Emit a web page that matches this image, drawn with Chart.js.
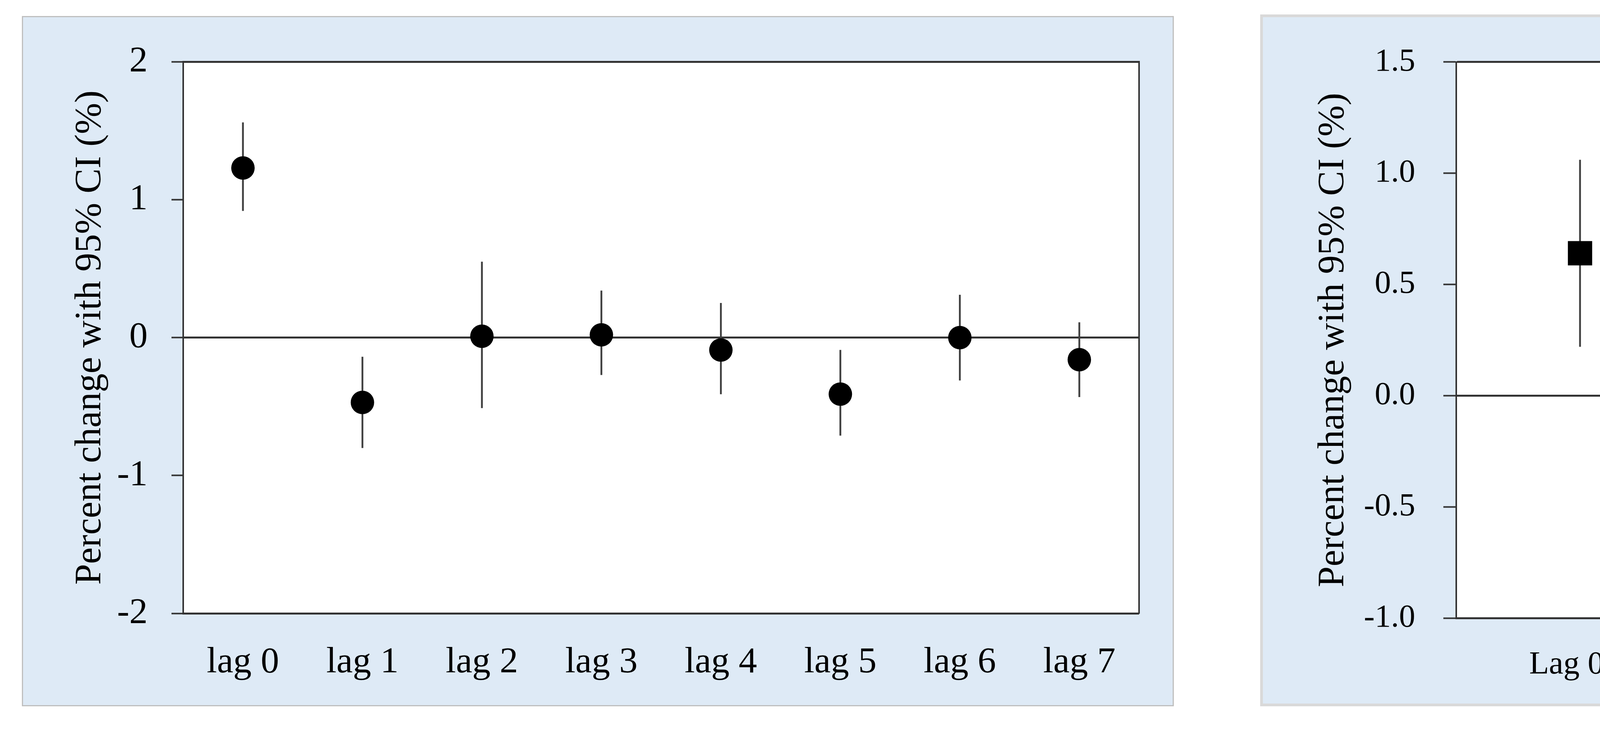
<!DOCTYPE html>
<html>
<head>
<meta charset="utf-8">
<script src="https://cdn.jsdelivr.net/npm/chart.js@4.4.1/dist/chart.umd.min.js"></script>
<style>
  html, body { margin: 0; padding: 0; background: #fff; }
  body { width: 6424px; height: 1880px; position: relative; overflow: hidden; }
  .panel { position: absolute; box-sizing: border-box; background: #DEEAF6; }
  #panelLeft { left: 56px; top: 41px; width: 2949px; height: 1768px; border: 3px solid #BFBFBF; }
  #panelRight { left: 3226px; top: 37px; width: 3138px; height: 1772px; border: 7px solid #D9D9D9; }
  canvas { position: absolute; }
  #chartLeft { left: 56px; top: 41px; }
  #chartRight { left: 3226px; top: 37px; }
</style>
</head>
<body>
<div class="panel" id="panelLeft"></div>
<div class="panel" id="panelRight"></div>
<canvas id="chartLeft" width="2949" height="1768"></canvas>
<canvas id="chartRight" width="3138" height="1772"></canvas>
<script>
// single-day lags
const lagLabels = ['lag 0', 'lag 1', 'lag 2', 'lag 3', 'lag 4', 'lag 5', 'lag 6', 'lag 7'];
const lagEstimate = [1.23, -0.47, 0.01, 0.02, -0.09, -0.41, 0.00, -0.16];
const lagLower = [0.92, -0.80, -0.51, -0.27, -0.41, -0.71, -0.31, -0.43];
const lagUpper = [1.56, -0.14, 0.55, 0.34, 0.25, -0.09, 0.31, 0.11];
const lagTicks = [-2, -1, 0, 1, 2];

// cumulative lags
const cumLabels = ['Lag 0-1', 'Lag 0-3', 'Lag 0-5', 'Lag 0-7'];
const cumEstimate = [0.64, 0.44, 0.20, 0.10];
const cumLower = [0.22, -0.30, -0.65, -0.76];
const cumUpper = [1.06, 1.20, 1.08, 0.97];
const cumTicks = [-1.0, -0.5, 0.0, 0.5, 1.0, 1.5];

const AXIS = '#333333';
const BAR = '#404040';
const FONT = 'Liberation Serif';
const TITLE = 'Percent change with 95% CI (%)';

// white plot area on the blue panel
const plotFill = {
    id: 'plotFill',
    beforeDraw(chart) {
        const { ctx, chartArea: a } = chart;
        ctx.save();
        ctx.fillStyle = '#fff';
        ctx.fillRect(a.left, a.top, a.right - a.left, a.bottom - a.top);
        ctx.restore();
    }
};

function makeChart(id, cfg) {
    const ticks = cfg.ticks;
    const first = ticks[0];
    const last = ticks[ticks.length - 1];
    const strong = v => v === 0 || v === first || v === last;

    return new Chart(document.getElementById(id), {
        data: {
            labels: cfg.labels,
            datasets: [{
                type: 'line',
                data: cfg.estimate,
                showLine: false,
                pointStyle: cfg.pointStyle,
                pointRadius: cfg.pointRadius,
                pointBackgroundColor: '#000',
                pointBorderWidth: 0,
                order: 0
            }, {
                type: 'bar',
                data: cfg.lower.map((lo, i) => [lo, cfg.upper[i]]),
                backgroundColor: BAR,
                barThickness: 4,
                order: 1
            }]
        },
        plugins: [plotFill],
        options: {
            responsive: false,
            devicePixelRatio: 1,
            animation: false,
            events: [],
            layout: { padding: { left: 0, top: cfg.top, right: cfg.right, bottom: 0 } },
            plugins: { legend: { display: false }, tooltip: { enabled: false } },
            scales: {
                x: {
                    type: 'category',
                    offset: true,
                    grid: { display: false, drawTicks: false },
                    border: { display: false },
                    ticks: {
                        color: '#000',
                        padding: cfg.xPad,
                        maxRotation: 0,
                        font: { family: FONT, size: cfg.tickSize }
                    },
                    afterFit: s => { s.height = cfg.below; }
                },
                y: {
                    min: first,
                    max: last,
                    afterBuildTicks: s => { s.ticks = ticks.map(v => ({ value: v })); },
                    grid: {
                        color: c => (c.tick && strong(c.tick.value)) ? AXIS : 'rgba(0,0,0,0)',
                        lineWidth: 5,
                        tickColor: AXIS,
                        tickWidth: 4,
                        tickLength: cfg.tickLen
                    },
                    border: { display: true, color: AXIS, width: 4 },
                    ticks: {
                        color: '#000',
                        padding: cfg.yPad,
                        font: { family: FONT, size: cfg.tickSize },
                        callback: v => v.toFixed(cfg.decimals)
                    },
                    title: {
                        display: true,
                        text: TITLE,
                        color: '#000',
                        padding: { top: cfg.titlePad, bottom: 0 },
                        font: { family: FONT, size: 96, lineHeight: 1 }
                    },
                    afterFit: s => { s.width = cfg.left; }
                },
                y2: {
                    position: 'right',
                    min: first,
                    max: last,
                    grid: { drawOnChartArea: false, drawTicks: false },
                    border: { display: true, color: AXIS, width: 4 },
                    ticks: { display: false },
                    afterFit: s => { s.width = 0; }
                }
            }
        }
    });
}

makeChart('chartLeft', {
    labels: lagLabels, estimate: lagEstimate, lower: lagLower, upper: lagUpper,
    ticks: lagTicks, decimals: 0, pointStyle: 'circle', pointRadius: 30,
    top: 100, right: 89, left: 413, below: 238,
    tickSize: 94, tickLen: 30, yPad: 61, xPad: 70, titlePad: 128
});

makeChart('chartRight', {
    labels: cumLabels, estimate: cumEstimate, lower: cumLower, upper: cumUpper,
    ticks: cumTicks, decimals: 1, pointStyle: 'rect', pointRadius: 44,
    top: 102, right: 101, left: 502, below: 226,
    tickSize: 83, tickLen: 33, yPad: 72, xPad: 70, titlePad: 140
});
</script>
</body>
</html>
